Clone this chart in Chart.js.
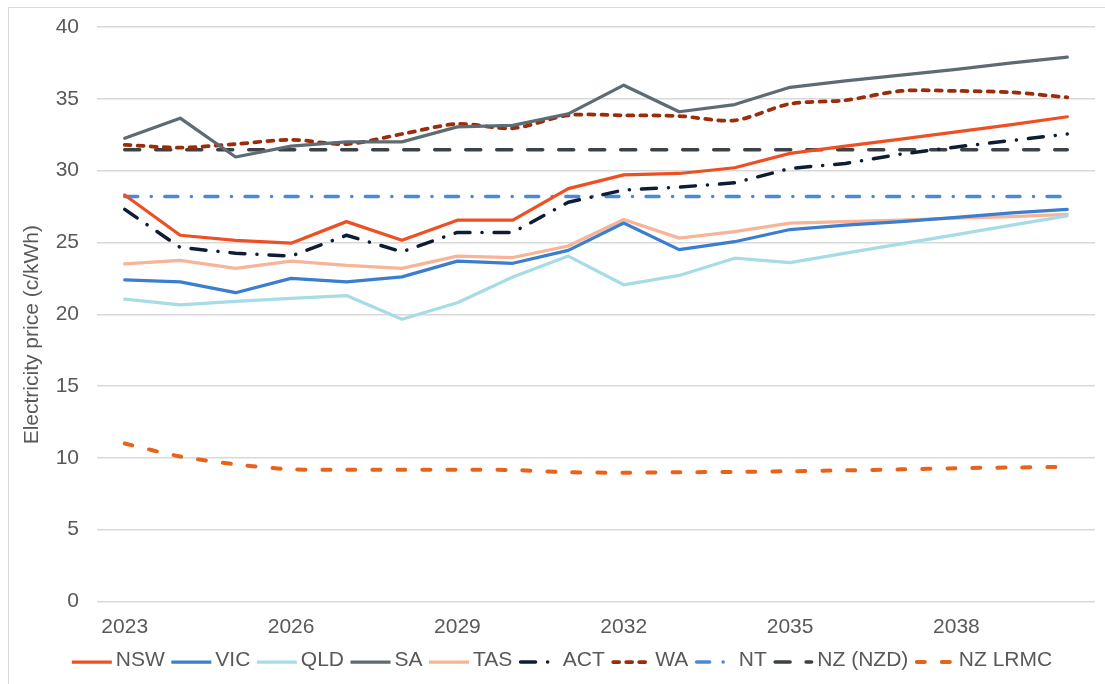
<!DOCTYPE html>
<html>
<head>
<meta charset="utf-8">
<script src="https://cdn.jsdelivr.net/npm/chart.js@4"></script>
<style>
  html, body { margin: 0; padding: 0; background: #fff; }
</style>
</head>
<body>
<canvas id="chart" width="1105" height="684"></canvas>
<script>
const years = ['2023', '2024', '2025', '2026', '2027', '2028', '2029', '2030', '2031',
               '2032', '2033', '2034', '2035', '2036', '2037', '2038', '2039', '2040'];

const nsw = [28.3, 25.5, 25.15, 24.95, 26.45, 25.15, 26.55, 26.55, 28.75, 29.7, 29.8, 30.2, 31.2, 31.7, 32.2, 32.7, 33.2, 33.75];
const vic = [22.4, 22.25, 21.5, 22.5, 22.25, 22.6, 23.7, 23.55, 24.45, 26.35, 24.5, 25.05, 25.9, 26.2, 26.45, 26.75, 27.05, 27.3];
const qld = [21.05, 20.65, 20.9, 21.1, 21.3, 19.65, 20.8, 22.6, 24.05, 22.05, 22.7, 23.9, 23.6, 24.25, 24.9, 25.55, 26.2, 26.85];
const sa = [32.25, 33.65, 30.95, 31.7, 32.0, 32.0, 33.05, 33.15, 33.95, 35.95, 34.1, 34.6, 35.8, 36.25, 36.65, 37.05, 37.5, 37.9];
const tas = [23.5, 23.75, 23.2, 23.7, 23.4, 23.2, 24.05, 23.95, 24.75, 26.6, 25.3, 25.75, 26.35, 26.45, 26.55, 26.7, 26.8, 26.95];
const act = [27.3, 24.65, 24.25, 24.05, 25.5, 24.35, 25.7, 25.7, 27.8, 28.65, 28.85, 29.15, 30.15, 30.5, 31.15, 31.65, 32.1, 32.55];
const wa = [31.8, 31.6, 31.85, 32.15, 31.85, 32.55, 33.25, 32.95, 33.85, 33.85, 33.8, 33.5, 34.65, 34.9, 35.55, 35.55, 35.45, 35.1];
const nt = [28.2, 28.2, 28.2, 28.2, 28.2, 28.2, 28.2, 28.2, 28.2, 28.2, 28.2, 28.2, 28.2, 28.2, 28.2, 28.2, 28.2, 28.2];
const nzNzd = [31.45, 31.45, 31.45, 31.45, 31.45, 31.45, 31.45, 31.45, 31.45, 31.45, 31.45, 31.45, 31.45, 31.45, 31.45, 31.45, 31.45, 31.45];
const nzLrmc = [11.0, 10.1, 9.55, 9.2, 9.17, 9.17, 9.17, 9.15, 9.0, 8.97, 9.0, 9.02, 9.07, 9.13, 9.2, 9.28, 9.33, 9.37];

const yTicks = [0, 5, 10, 15, 20, 25, 30, 35, 40];

const grey = '#595959';
const font = { family: '"Liberation Sans", Arial, sans-serif', size: 21 };
const sampleW = 40;   // drawn length of a legend line
const sampleGap = 4;  // space between legend line and its text

// light frame round the chart, as in the original
const frame = {
  id: 'frame',
  beforeDraw(c) {
    const ctx = c.ctx;
    ctx.save();
    ctx.strokeStyle = '#D9D9D9';
    ctx.lineWidth = 1;
    ctx.strokeRect(8.5, 7.5, c.width + 20, c.height + 20);
    ctx.restore();
  }
};

// legend samples with the dataset's own dash pattern
const legendLines = {
  id: 'legendLines',
  afterDraw(c) {
    const lg = c.legend, ctx = c.ctx;
    lg.legendItems.forEach((item, i) => {
      const box = lg.legendHitBoxes[i];
      const ds = c.data.datasets[item.datasetIndex];
      const y = Math.round(box.top + box.height / 2) + 1;
      const pad = ds.borderDash ? ds.borderWidth / 2 : 0;
      ctx.save();
      ctx.strokeStyle = ds.borderColor;
      ctx.lineWidth = ds.borderWidth;
      ctx.lineCap = ds.borderDash ? 'round' : 'butt';
      ctx.setLineDash(ds.borderDash || []);
      ctx.beginPath();
      ctx.moveTo(box.left + pad, y);
      ctx.lineTo(box.left + sampleW - pad, y);
      ctx.stroke();
      ctx.restore();
    });
  }
};

function solid(label, data, color) {
  return { label, data, borderColor: color, backgroundColor: color, borderWidth: 3.25,
           borderCapStyle: 'round', borderJoinStyle: 'round' };
}
function dashed(label, data, color, dash, width, tension) {
  return { label, data, borderColor: color, backgroundColor: color, borderWidth: width,
           borderDash: dash, borderCapStyle: 'round', borderJoinStyle: 'round', tension: tension || 0 };
}

new Chart(document.getElementById('chart'), {
  type: 'line',
  data: {
    labels: years,
    datasets: [
      solid('NSW', nsw, '#EE5024'),
      solid('VIC', vic, '#3B7DCF'),
      solid('QLD', qld, '#A6DCE6'),
      solid('SA', sa, '#5E6B73'),
      solid('TAS', tas, '#F7B497'),
      dashed('ACT', act, '#0E1D33', [15, 12, 0.1, 12], 3.5),
      dashed('WA', wa, '#9B2D0B', [6, 7], 3.75, 0.3),
      dashed('NT', nt, '#4A89D6', [13, 13.5, 0.1, 13.5], 3.5),
      dashed('NZ (NZD)', nzNzd, '#3A4247', [15, 16], 3.5),
      dashed('NZ LRMC', nzLrmc, '#E8631A', [8, 17], 4, 0.3)
    ]
  },
  options: {
    responsive: false,
    animation: false,
    devicePixelRatio: 1,
    layout: { padding: { top: 27, right: 10, left: 29, bottom: 3 } },
    elements: { point: { radius: 0 } },
    plugins: {
      tooltip: { enabled: false },
      legend: {
        position: 'bottom',
        labels: {
          usePointStyle: true,
          pointStyle: 'line',
          pointStyleWidth: sampleW + sampleGap - font.size / 2,
          padding: 6.5,
          color: grey,
          font: font,
          generateLabels: c => Chart.defaults.plugins.legend.labels.generateLabels(c)
            .map(l => Object.assign(l, { lineWidth: 0 }))
        }
      }
    },
    scales: {
      x: {
        offset: true,
        afterFit: s => { s.height = 42; },
        grid: { display: false, drawTicks: false },
        border: { display: false },
        ticks: {
          autoSkip: false,
          maxRotation: 0,
          padding: 13,
          color: grey,
          font: font,
          callback: function (v, i) { return i % 3 === 0 ? this.getLabelForValue(v) : ''; }
        }
      },
      y: {
        min: 0,
        max: 40,
        afterBuildTicks: s => { s.ticks = yTicks.map(v => ({ value: v })); },
        afterFit: s => { s.width = 68; s.paddingTop = 0; s.paddingBottom = 0; },
        grid: { color: '#D9D9D9', lineWidth: 1.5, drawTicks: false },
        border: { display: false },
        ticks: { padding: 18, color: grey, font: font },
        title: {
          display: true,
          text: 'Electricity price (c/kWh)       ',
          color: grey,
          font: font,
          padding: { top: -9.5, bottom: 0 }
        }
      }
    }
  },
  plugins: [frame, legendLines]
});
</script>
</body>
</html>
